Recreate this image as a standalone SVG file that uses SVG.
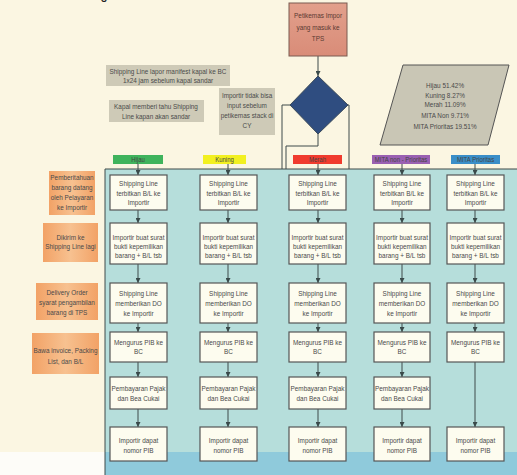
<svg xmlns="http://www.w3.org/2000/svg" width="517" height="475" viewBox="0 0 517 475">
<defs>
<marker id="ah" viewBox="0 0 10 10" refX="10" refY="5" markerWidth="5" markerHeight="5" orient="auto" markerUnits="userSpaceOnUse">
<path d="M0,0 L10,5 L0,10 z" fill="#3a4a4a"/>
</marker>
<linearGradient id="og" x1="0" y1="0" x2="1" y2="0">
<stop offset="0" stop-color="#f2a266"/>
<stop offset="0.5" stop-color="#f7c190"/>
<stop offset="1" stop-color="#f2a266"/>
</linearGradient>
<linearGradient id="sg" x1="0" y1="0" x2="0" y2="1">
<stop offset="0" stop-color="#e2a08c"/>
<stop offset="1" stop-color="#d98c78"/>
</linearGradient>
</defs>
<style>
text{font-family:"Liberation Sans",Arial,sans-serif;font-size:8px;fill:#4a4a4a;text-anchor:middle;transform-box:fill-box;transform-origin:center;transform:scaleX(0.8)}
.box{fill:#fdfcef;stroke:#555;stroke-width:1.2}
.note{fill:#c9c5b3;opacity:0.9}
.orange{fill:url(#og)}
.conn{fill:none;stroke:#3f4a4a;stroke-width:1}
.hdr text{font-size:7.5px;fill:#444}
</style>
<rect x="0" y="0" width="517" height="475" fill="#fbf6e2"/>
<rect x="0" y="452" width="105" height="23" fill="#fdfcf8"/>
<rect x="105" y="169" width="412" height="284" fill="#b6dedb"/>
<rect x="105" y="452" width="412" height="23" fill="#8fcadb"/>
<text x="104" y="-1" style="font-size:16px;fill:#222">g</text>

<g id="connectors">
<line class="conn" x1="105" y1="169" x2="517" y2="169" stroke-width="1.2"/>
<line class="conn" x1="105" y1="169" x2="105" y2="475" stroke-width="1.2"/>
<line class="conn" x1="318" y1="56" x2="318" y2="76" marker-end="url(#ah)"/>
<polyline class="conn" points="290,105 282,105 282,169"/>
<polyline class="conn" points="348,105 349,105 349,169"/>
<polyline class="conn" points="318,134 318,146 286,146 286,169"/>
<g id="col-arrows">
<line class="conn" x1="138" y1="164" x2="138" y2="175" marker-end="url(#ah)"/>
<line class="conn" x1="138" y1="210" x2="138" y2="223" marker-end="url(#ah)"/>
<line class="conn" x1="138" y1="264" x2="138" y2="283" marker-end="url(#ah)"/>
<line class="conn" x1="138" y1="323" x2="138" y2="332" marker-end="url(#ah)"/>
<line class="conn" x1="138" y1="362" x2="138" y2="377" marker-end="url(#ah)"/>
<line class="conn" x1="138" y1="409" x2="138" y2="427" marker-end="url(#ah)"/>
<line class="conn" x1="228" y1="164" x2="228" y2="175" marker-end="url(#ah)"/>
<line class="conn" x1="228" y1="210" x2="228" y2="223" marker-end="url(#ah)"/>
<line class="conn" x1="228" y1="264" x2="228" y2="283" marker-end="url(#ah)"/>
<line class="conn" x1="228" y1="323" x2="228" y2="332" marker-end="url(#ah)"/>
<line class="conn" x1="228" y1="362" x2="228" y2="377" marker-end="url(#ah)"/>
<line class="conn" x1="228" y1="409" x2="228" y2="427" marker-end="url(#ah)"/>
<line class="conn" x1="318" y1="164" x2="318" y2="175" marker-end="url(#ah)"/>
<line class="conn" x1="318" y1="210" x2="318" y2="223" marker-end="url(#ah)"/>
<line class="conn" x1="318" y1="264" x2="318" y2="283" marker-end="url(#ah)"/>
<line class="conn" x1="318" y1="323" x2="318" y2="332" marker-end="url(#ah)"/>
<line class="conn" x1="318" y1="362" x2="318" y2="377" marker-end="url(#ah)"/>
<line class="conn" x1="318" y1="409" x2="318" y2="427" marker-end="url(#ah)"/>
<line class="conn" x1="402" y1="164" x2="402" y2="175" marker-end="url(#ah)"/>
<line class="conn" x1="402" y1="210" x2="402" y2="223" marker-end="url(#ah)"/>
<line class="conn" x1="402" y1="264" x2="402" y2="283" marker-end="url(#ah)"/>
<line class="conn" x1="402" y1="323" x2="402" y2="332" marker-end="url(#ah)"/>
<line class="conn" x1="402" y1="362" x2="402" y2="377" marker-end="url(#ah)"/>
<line class="conn" x1="402" y1="409" x2="402" y2="427" marker-end="url(#ah)"/>
<line class="conn" x1="475" y1="164" x2="475" y2="175" marker-end="url(#ah)"/>
<line class="conn" x1="475" y1="210" x2="475" y2="223" marker-end="url(#ah)"/>
<line class="conn" x1="475" y1="264" x2="475" y2="283" marker-end="url(#ah)"/>
<line class="conn" x1="475" y1="323" x2="475" y2="332" marker-end="url(#ah)"/>
<line class="conn" x1="475" y1="362" x2="475" y2="427" marker-end="url(#ah)"/>
</g>
</g>

<g id="start">
<rect x="289" y="3" width="58" height="53" fill="url(#sg)" stroke="#7a5a50" stroke-width="1"/>
<text x="318" y="18" style="fill:#5a3a32">Petikemas Impor</text>
<text x="318" y="30" style="fill:#5a3a32">yang masuk ke</text>
<text x="318" y="41" style="fill:#5a3a32">TPS</text>
</g>

<g id="decision">
<polygon points="318,76 348,105 318,134 290,105" fill="#2f4d80" stroke="#3a4a5a" stroke-width="1"/>
</g>

<g id="note1">
<rect class="note" x="106" y="65" width="124" height="21"/>
<text x="168" y="74">Shipping Line lapor manifest kapal ke BC</text>
<text x="168" y="83">1x24 jam sebelum kapal sandar</text>
</g>
<g id="note2">
<rect class="note" x="109" y="100" width="95" height="22"/>
<text x="156" y="109">Kapal memberi tahu Shipping</text>
<text x="156" y="119">Line kapan akan sandar</text>
</g>
<g id="note3">
<rect class="note" x="219" y="88" width="56" height="47"/>
<text x="247" y="98">Importir tidak bisa</text>
<text x="247" y="108">input sebelum</text>
<text x="247" y="118">petikemas stack di</text>
<text x="247" y="128">CY</text>
</g>

<g id="stats">
<polygon points="403,65 509,65 488,145 380,145" fill="#c9c6b5" stroke="#555" stroke-width="1"/>
<text x="445" y="88">Hijau 51.42%</text>
<text x="445" y="98">Kuning 8.27%</text>
<text x="445" y="107">Merah 11.09%</text>
<text x="445" y="118">MITA Non 9.71%</text>
<text x="445" y="129">MITA Prioritas 19.51%</text>
</g>

<g id="hdr-hijau" class="hdr">
<rect x="113" y="155" width="50" height="9" fill="#3fb35c"/>
<text x="138" y="162.5">Hijau</text>
</g>
<g id="hdr-kuning" class="hdr">
<rect x="203" y="155" width="43" height="9" fill="#f2f020"/>
<text x="224.5" y="162.5">Kuning</text>
</g>
<g id="hdr-merah" class="hdr">
<rect x="293" y="155" width="49" height="9" fill="#f03b2e"/>
<text x="317.5" y="162.5">Merah</text>
</g>
<g id="hdr-mitanon" class="hdr">
<rect x="372" y="155" width="58" height="9" fill="#9a60b2"/>
<text x="401" y="162.5">MITA non - Prioritas</text>
</g>
<g id="hdr-mitaprio" class="hdr">
<rect x="451" y="155" width="49" height="9" fill="#3a8ec8"/>
<text x="475.5" y="162.5">MITA Prioritas</text>
</g>

<g id="side1">
<rect class="orange" x="49" y="171" width="46" height="44"/>
<text x="72" y="180">Pemberitahuan</text>
<text x="72" y="190">barang datang</text>
<text x="72" y="200">oleh Pelayaran</text>
<text x="72" y="210">ke Importir</text>
</g>
<g id="side2">
<rect class="orange" x="43" y="223" width="55" height="39"/>
<text x="70.5" y="240">Dikirim ke</text>
<text x="70.5" y="249">Shipping Line lagi</text>
</g>
<g id="side3">
<rect class="orange" x="36" y="283" width="62" height="37"/>
<text x="67" y="295">Delivery Order</text>
<text x="67" y="305">syarat pengambilan</text>
<text x="67" y="315">barang di TPS</text>
</g>
<g id="side4">
<rect class="orange" x="32" y="333" width="67" height="41"/>
<text x="65.5" y="353">Bawa invoice, Packing</text>
<text x="65.5" y="364">List, dan B/L</text>
</g>

<g id="h1"><rect class="box" x="110" y="175" width="57" height="35"/><text x="138.5" y="186">Shipping Line</text><text x="138.5" y="196">terbitkan B/L ke</text><text x="138.5" y="205">Importir</text></g>
<g id="h2"><rect class="box" x="110" y="223" width="57" height="41"/><text x="138.5" y="240">Importir buat surat</text><text x="138.5" y="249">bukti kepemilikan</text><text x="138.5" y="258">barang + B/L tsb</text></g>
<g id="h3"><rect class="box" x="110" y="283" width="57" height="40"/><text x="138.5" y="296">Shipping Line</text><text x="138.5" y="306">memberikan DO</text><text x="138.5" y="316">ke Importir</text></g>
<g id="h4"><rect class="box" x="110" y="332" width="57" height="30"/><text x="138.5" y="345">Mengurus PIB ke</text><text x="138.5" y="354">BC</text></g>
<g id="h5"><rect class="box" x="110" y="377" width="57" height="32"/><text x="138.5" y="391">Pembayaran Pajak</text><text x="138.5" y="401">dan Bea Cukai</text></g>
<g id="h6"><rect class="box" x="110" y="427" width="57" height="34"/><text x="138.5" y="443">Importir dapat</text><text x="138.5" y="453">nomor PIB</text></g>

<g id="k1"><rect class="box" x="200" y="175" width="57" height="35"/><text x="228.5" y="186">Shipping Line</text><text x="228.5" y="196">terbitkan B/L ke</text><text x="228.5" y="205">Importir</text></g>
<g id="k2"><rect class="box" x="200" y="223" width="57" height="41"/><text x="228.5" y="240">Importir buat surat</text><text x="228.5" y="249">bukti kepemilikan</text><text x="228.5" y="258">barang + B/L tsb</text></g>
<g id="k3"><rect class="box" x="200" y="283" width="57" height="40"/><text x="228.5" y="296">Shipping Line</text><text x="228.5" y="306">memberikan DO</text><text x="228.5" y="316">ke Importir</text></g>
<g id="k4"><rect class="box" x="200" y="332" width="57" height="30"/><text x="228.5" y="345">Mengurus PIB ke</text><text x="228.5" y="354">BC</text></g>
<g id="k5"><rect class="box" x="200" y="377" width="57" height="32"/><text x="228.5" y="391">Pembayaran Pajak</text><text x="228.5" y="401">dan Bea Cukai</text></g>
<g id="k6"><rect class="box" x="200" y="427" width="57" height="34"/><text x="228.5" y="443">Importir dapat</text><text x="228.5" y="453">nomor PIB</text></g>

<g id="m1"><rect class="box" x="289" y="175" width="57" height="35"/><text x="317.5" y="186">Shipping Line</text><text x="317.5" y="196">terbitkan B/L ke</text><text x="317.5" y="205">Importir</text></g>
<g id="m2"><rect class="box" x="289" y="223" width="57" height="41"/><text x="317.5" y="240">Importir buat surat</text><text x="317.5" y="249">bukti kepemilikan</text><text x="317.5" y="258">barang + B/L tsb</text></g>
<g id="m3"><rect class="box" x="289" y="283" width="57" height="40"/><text x="317.5" y="296">Shipping Line</text><text x="317.5" y="306">memberikan DO</text><text x="317.5" y="316">ke Importir</text></g>
<g id="m4"><rect class="box" x="289" y="332" width="57" height="30"/><text x="317.5" y="345">Mengurus PIB ke</text><text x="317.5" y="354">BC</text></g>
<g id="m5"><rect class="box" x="289" y="377" width="57" height="32"/><text x="317.5" y="391">Pembayaran Pajak</text><text x="317.5" y="401">dan Bea Cukai</text></g>
<g id="m6"><rect class="box" x="289" y="427" width="57" height="34"/><text x="317.5" y="443">Importir dapat</text><text x="317.5" y="453">nomor PIB</text></g>

<g id="n1"><rect class="box" x="374" y="175" width="56" height="35"/><text x="402" y="186">Shipping Line</text><text x="402" y="196">terbitkan B/L ke</text><text x="402" y="205">Importir</text></g>
<g id="n2"><rect class="box" x="374" y="223" width="56" height="41"/><text x="402" y="240">Importir buat surat</text><text x="402" y="249">bukti kepemilikan</text><text x="402" y="258">barang + B/L tsb</text></g>
<g id="n3"><rect class="box" x="374" y="283" width="56" height="40"/><text x="402" y="296">Shipping Line</text><text x="402" y="306">memberikan DO</text><text x="402" y="316">ke Importir</text></g>
<g id="n4"><rect class="box" x="374" y="332" width="56" height="30"/><text x="402" y="345">Mengurus PIB ke</text><text x="402" y="354">BC</text></g>
<g id="n5"><rect class="box" x="374" y="377" width="56" height="32"/><text x="402" y="391">Pembayaran Pajak</text><text x="402" y="401">dan Bea Cukai</text></g>
<g id="n6"><rect class="box" x="374" y="427" width="56" height="34"/><text x="402" y="443">Importir dapat</text><text x="402" y="453">nomor PIB</text></g>

<g id="p1"><rect class="box" x="447" y="175" width="57" height="35"/><text x="475.5" y="186">Shipping Line</text><text x="475.5" y="196">terbitkan B/L ke</text><text x="475.5" y="205">Importir</text></g>
<g id="p2"><rect class="box" x="447" y="223" width="57" height="41"/><text x="475.5" y="240">Importir buat surat</text><text x="475.5" y="249">bukti kepemilikan</text><text x="475.5" y="258">barang + B/L tsb</text></g>
<g id="p3"><rect class="box" x="447" y="283" width="57" height="40"/><text x="475.5" y="296">Shipping Line</text><text x="475.5" y="306">memberikan DO</text><text x="475.5" y="316">ke Importir</text></g>
<g id="p4"><rect class="box" x="447" y="332" width="57" height="30"/><text x="475.5" y="345">Mengurus PIB ke</text><text x="475.5" y="354">BC</text></g>
<g id="p6"><rect class="box" x="447" y="427" width="57" height="34"/><text x="475.5" y="443">Importir dapat</text><text x="475.5" y="453">nomor PIB</text></g>
</svg>
